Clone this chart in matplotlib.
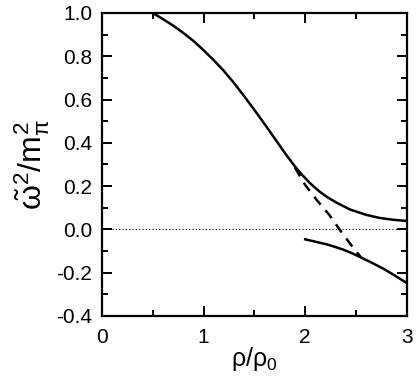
import numpy as np
import matplotlib
matplotlib.use("Agg")
import matplotlib.pyplot as plt
from matplotlib.ticker import MultipleLocator, FormatStrFormatter

plt.rcParams['font.family'] = ['Liberation Sans', 'DejaVu Sans']
plt.rcParams['mathtext.fontset'] = 'custom'
plt.rcParams['mathtext.rm'] = 'Liberation Sans'
plt.rcParams['mathtext.it'] = 'Liberation Sans'
plt.rcParams['mathtext.bf'] = 'Liberation Sans:bold'

# upper branch (solid)
upper_rho = [0.5, 0.6, 0.7, 0.8, 0.9, 1.0, 1.1, 1.2, 1.3, 1.4, 1.5, 1.6, 1.7,
             1.8, 1.9, 1.97, 2.05, 2.14, 2.22, 2.31, 2.44, 2.6, 2.73, 2.87, 3.0]
upper_w2 = [1.0, 0.972, 0.942, 0.908, 0.871, 0.828, 0.782, 0.732, 0.676, 0.615,
            0.552, 0.487, 0.42, 0.353, 0.29, 0.252, 0.212, 0.175, 0.148, 0.123,
            0.092, 0.067, 0.053, 0.044, 0.039]

# dashed continuation
dash_rho = [1.9, 2.0, 2.12, 2.24, 2.34, 2.44, 2.55]
dash_w2 = [0.285, 0.205, 0.132, 0.065, -0.002, -0.065, -0.13]

# lower branch (solid)
lower_rho = [2.0, 2.1, 2.21, 2.3, 2.37, 2.45, 2.54, 2.65, 2.77, 2.88, 3.0]
lower_w2 = [-0.046, -0.057, -0.069, -0.082, -0.093, -0.108, -0.128, -0.153,
            -0.182, -0.213, -0.248]

fig = plt.figure(figsize=(4.16, 3.82), dpi=100)
ax = fig.add_axes([0.245, 0.173, 0.733, 0.793])

ax.axhline(0, color='black', lw=0.8, ls=(0, (1, 2)))
ax.plot(upper_rho, upper_w2, color='black', lw=1.8)
ax.plot(dash_rho, dash_w2, color='black', lw=1.8, dashes=(4, 3))
ax.plot(lower_rho, lower_w2, color='black', lw=1.8)

ax.set_xlim(0, 3)
ax.set_ylim(-0.4, 1.0)
ax.xaxis.set_major_locator(MultipleLocator(1))
ax.xaxis.set_minor_locator(MultipleLocator(0.5))
ax.yaxis.set_major_locator(MultipleLocator(0.2))
ax.yaxis.set_minor_locator(MultipleLocator(0.1))
ax.yaxis.set_major_formatter(FormatStrFormatter('%.1f'))

for s in ax.spines.values():
    s.set_linewidth(1.6)
ax.tick_params(which='both', direction='in', top=True, right=True,
               width=1.4, labelsize=15, pad=7)
ax.tick_params(axis='x', which='major', pad=9)
ax.tick_params(which='major', length=7.5)
ax.tick_params(which='minor', length=4)

ax.set_xlabel(r'$\rho/\rho_0$', fontsize=18, labelpad=-2)
ax.set_ylabel(r'$\tilde{\omega}^2/m_\pi^2$', fontsize=23, labelpad=3)

fig.savefig('out.png', dpi=100)
